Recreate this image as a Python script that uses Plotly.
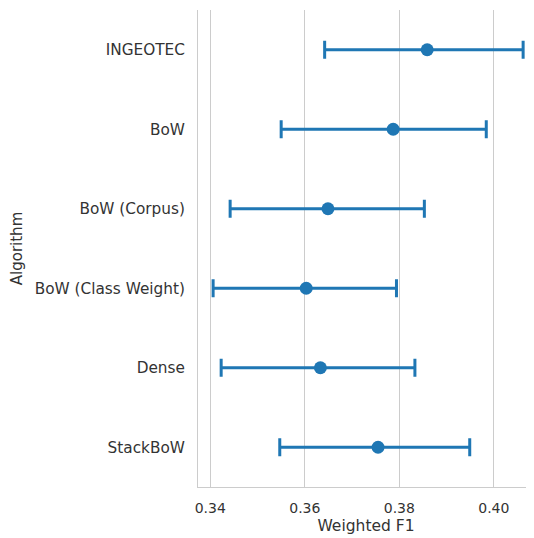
import plotly.graph_objects as go

algorithms = ["INGEOTEC", "BoW", "BoW (Corpus)", "BoW (Class Weight)", "Dense", "StackBoW"]
f1_mean = [0.3859, 0.3787, 0.3649, 0.3603, 0.3633, 0.3755]
ci_low = [0.3642, 0.3550, 0.3442, 0.3406, 0.3423, 0.3547]
ci_high = [0.4062, 0.3984, 0.3853, 0.3794, 0.3833, 0.3949]
x_ticks = [0.34, 0.36, 0.38, 0.40]

color = "#1f77b4"
text_color = "#333333"
grid_color = "#cccccc"

err_plus = [h - m for h, m in zip(ci_high, f1_mean)]
err_minus = [m - l for m, l in zip(f1_mean, ci_low)]

fig = go.Figure()
fig.add_trace(go.Scatter(
    x=f1_mean, y=algorithms, mode="markers", cliponaxis=False,
    marker=dict(color=color, size=13, line=dict(width=0)),
    error_x=dict(type="data", array=err_plus, arrayminus=err_minus,
                 color=color, thickness=3, width=9, visible=True),
    showlegend=False,
))

fig.update_layout(
    width=526, height=530,
    margin=dict(l=190, r=0, t=2, b=51),
    paper_bgcolor="white", plot_bgcolor="white",
    font=dict(family="DejaVu Sans", size=15, color=text_color),
    xaxis=dict(
        range=[0.3374, 0.4085], tickvals=x_ticks,
        ticktext=[f"{v:.2f}" for v in x_ticks],
        showgrid=True, gridcolor=grid_color, gridwidth=1,
        zeroline=False, showline=True, linecolor=grid_color, linewidth=1,
        ticks="outside", ticklen=8, tickcolor="rgba(0,0,0,0)",
        tickfont=dict(size=14),
        title=dict(text="Weighted F1", standoff=5, font=dict(size=15.5)),
    ),
    yaxis=dict(
        type="category", categoryorder="array", categoryarray=algorithms,
        range=[5.5, -0.5], showgrid=False, zeroline=False,
        showline=True, linecolor=grid_color, linewidth=1,
        ticks="outside", ticklen=9, tickcolor="rgba(0,0,0,0)",
        tickfont=dict(size=15.3),
        title=dict(text="Algorithm", standoff=11, font=dict(size=15)),
    ),
)

fig.write_html("out.html")
